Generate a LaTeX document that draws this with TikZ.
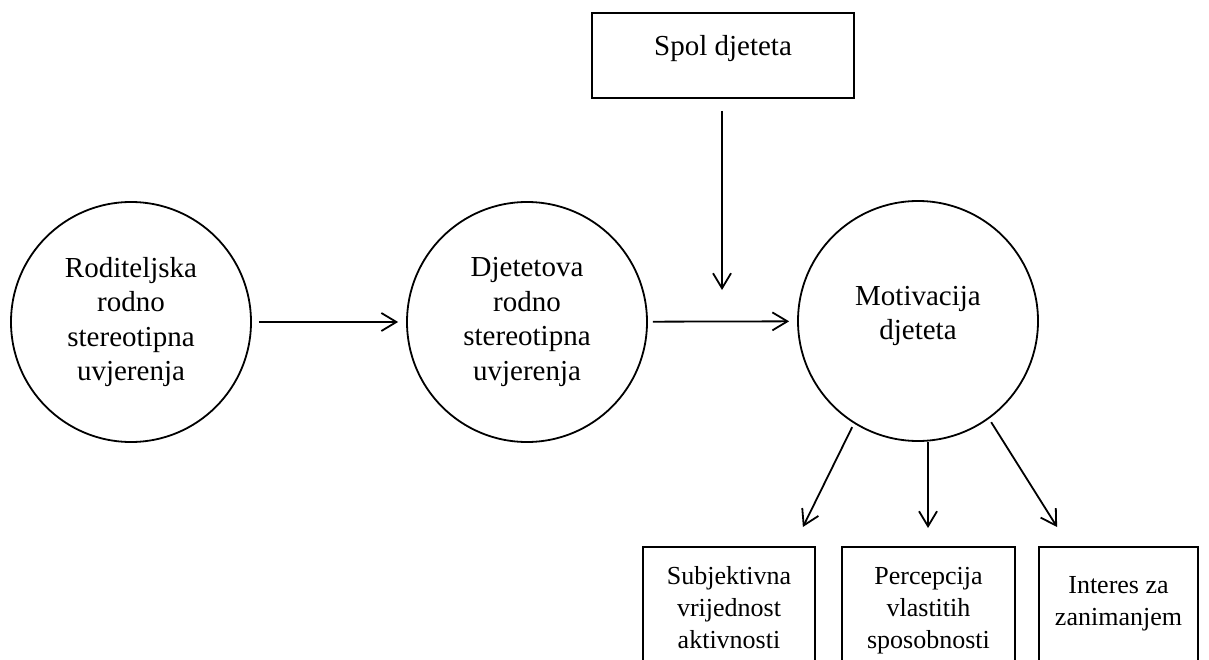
\documentclass[tikz,border=0pt]{standalone}
\usepackage{fontspec}
\setmainfont{Liberation Serif}
\usetikzlibrary{arrows.meta}
\usetikzlibrary{positioning}
\tikzset{
  stage-circle/.style={circle, draw, line width=1.8pt, minimum size=240pt, inner sep=0pt,
    align=center, font=\fontsize{29}{34.5}\selectfont},
  factor-box/.style={rectangle, draw, line width=1.8pt, anchor=north, align=center,
    inner xsep=0pt, text depth=40pt, font=\fontsize{26}{32}\selectfont},
  top-box/.style={rectangle, draw, line width=1.8pt, minimum width=262pt, minimum height=85pt,
    text height=20pt, text depth=20pt, font=\fontsize{29}{34}\selectfont},
  link-path/.style={line width=1.8pt, -{Straight Barb[length=15pt,width=18pt]}},
}

\begin{document}
\begin{tikzpicture}[x=1pt, y=-1pt]
  \useasboundingbox (0,0) rectangle (1209,660);
  \clip (0,0) rectangle (1209,660);

  % beliefs and motivation
  \node[stage-circle] (parent) at (131,322) {Roditeljska\\rodno\\stereotipna\\uvjerenja};
  \node[stage-circle] (child) at (527,322) {Djetetova\\rodno\\stereotipna\\uvjerenja};
  \node[stage-circle, text depth=16pt] (motiv) at (918,321) {Motivacija\\djeteta};
  \node[top-box] (sex) at (723,55.5) {Spol djeteta};
  \coordinate (join) at (722,290);

  % outcomes
  \node[factor-box, minimum width=172pt, inner ysep=20pt] (value) at (729,546) {Subjektivna\\vrijednost\\aktivnosti};
  \node[factor-box, minimum width=173pt, inner ysep=20pt] (perc) at (928.5,546) {Percepcija\\vlastitih\\sposobnosti};
  \node[factor-box, minimum width=159pt, inner ysep=30pt] (interest) at (1118.5,546) {Interes za\\zanimanjem};

  \draw[link-path, shorten <=7pt, shorten >=8pt] (parent) -- (child);
  \draw[link-path, shorten <=5pt, shorten >=8pt] (child) -- (motiv);
  \draw[link-path, shorten <=12pt] (sex.south -| join) -- (join);
  \draw[link-path, shorten <=4pt] (motiv.238) -- ([xshift=-13pt, yshift=19pt]value.north east);
  \draw[link-path] ([xshift=-0.5pt]perc.north |- motiv.south) -- ([xshift=-0.5pt, yshift=18pt]perc.north);
  \draw[link-path, shorten <=4pt] (motiv.306) -- ([xshift=19pt, yshift=19pt]interest.north west);
\end{tikzpicture}
\end{document}
